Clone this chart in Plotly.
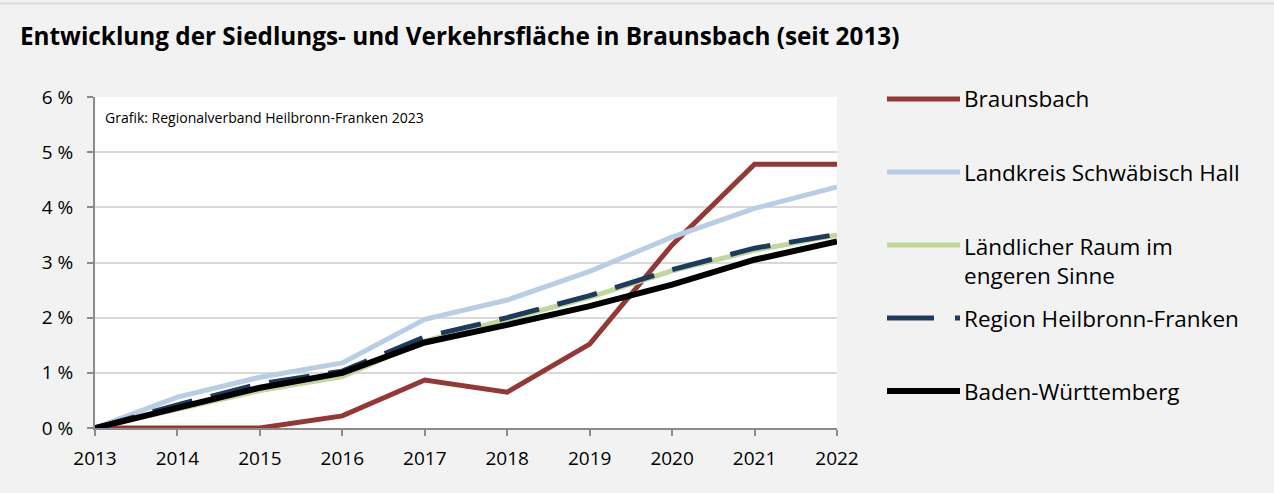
import plotly.graph_objects as go

# Jahre (Basisjahr 2013 = 0 %)
years = [2013, 2014, 2015, 2016, 2017, 2018, 2019, 2020, 2021, 2022]

# Zuwachs der Siedlungs- und Verkehrsfläche gegenüber 2013 in %
braunsbach = [0.0, 0.0, 0.0, 0.22, 0.87, 0.65, 1.52, 3.32, 4.78, 4.78]
landkreis_sha = [0.0, 0.56, 0.92, 1.18, 1.97, 2.32, 2.84, 3.46, 3.98, 4.37]
laendlicher_raum = [0.0, 0.33, 0.68, 0.93, 1.58, 1.97, 2.37, 2.85, 3.22, 3.50]
region_hnf = [0.0, 0.42, 0.80, 1.03, 1.65, 2.00, 2.40, 2.87, 3.26, 3.51]
baden_wuerttemberg = [0.0, 0.37, 0.73, 1.00, 1.55, 1.87, 2.21, 2.60, 3.05, 3.38]

y_ticks = [0, 1, 2, 3, 4, 5, 6]
y_tick_labels = ["0 %", "1 %", "2 %", "3 %", "4 %", "5 %", "6 %"]

FONT = "Open Sans"
W, H = 1274, 493
L, R, T, B = 95, 437, 97, 65

series = [
    ("Braunsbach", braunsbach, "#953735", None, 5),
    ("Landkreis Schwäbisch Hall", landkreis_sha, "#b9cde5", None, 5),
    ("Ländlicher Raum im<br>engeren Sinne", laendlicher_raum, "#c3d69b", None, 5),
    ("Region Heilbronn-Franken", region_hnf, "#1f3a5f", "41px,19px", 5),
    ("Baden-Württemberg", baden_wuerttemberg, "#000000", None, 6),
]

fig = go.Figure()
for name, values, color, dash, width in series:
    fig.add_trace(go.Scatter(
        x=years, y=values, mode="lines", name=name,
        line=dict(color=color, width=width, dash=dash),
        showlegend=False,
    ))

plot_w = W - L - R
plot_h = H - T - B


def px_x(px):
    return (px - L) / plot_w


def px_y(py):
    return (H - B - py) / plot_h


# Legende rechts neben dem Diagramm
legend_rows = [
    (99, 99, "Braunsbach"),
    (172, 172, "Landkreis Schwäbisch Hall"),
    (245, 261, "Ländlicher Raum im<br>engeren Sinne"),
    (318, 318, "Region Heilbronn-Franken"),
    (391, 391, "Baden-Württemberg"),
]
shapes = []
annotations = []
for (line_y, text_y, label), (_, _, color, dash, width) in zip(legend_rows, series):
    shapes.append(dict(
        type="line", xref="paper", yref="paper",
        x0=px_x(887), x1=px_x(960), y0=px_y(line_y), y1=px_y(line_y),
        line=dict(color=color, width=width, dash="47px,21px" if dash else None),
    ))
    annotations.append(dict(
        xref="paper", yref="paper", x=px_x(962), y=px_y(text_y),
        xanchor="left", yanchor="middle", text=label, showarrow=False,
        align="left", font=dict(family=FONT, size=22.5, color="#000000"),
    ))

# Rahmenlinie oben
shapes.append(dict(
    type="line", xref="paper", yref="paper",
    x0=px_x(0), x1=px_x(W), y0=px_y(3.5), y1=px_y(3.5),
    line=dict(color="#d9d9d9", width=2),
))

annotations.append(dict(
    xref="paper", yref="paper", x=px_x(103), y=px_y(117),
    xanchor="left", yanchor="middle",
    text="Grafik: Regionalverband Heilbronn-Franken 2023", showarrow=False,
    font=dict(family=FONT, size=14, color="#000000"),
))
annotations.append(dict(
    xref="paper", yref="paper", x=px_x(18), y=px_y(35),
    xanchor="left", yanchor="middle",
    text="<b>Entwicklung der Siedlungs- und Verkehrsfläche in Braunsbach (seit 2013)</b>",
    showarrow=False,
    font=dict(family=FONT, size=24.3, color="#000000"),
))

fig.update_layout(
    width=W, height=H,
    margin=dict(l=L, r=R, t=T, b=B),
    paper_bgcolor="#f2f2f2",
    plot_bgcolor="#ffffff",
    font=dict(family=FONT, size=19, color="#000000"),
    shapes=shapes,
    annotations=annotations,
    showlegend=False,
)
fig.update_xaxes(
    range=[2013, 2022], tickmode="array", tickvals=years,
    ticktext=[str(y) for y in years],
    showgrid=False, zeroline=False,
    showline=True, linecolor="#8c8c8c", linewidth=2,
    ticks="outside", ticklen=6, tickcolor="#8c8c8c", tickwidth=2,
    tickfont=dict(family=FONT, size=19), ticklabelstandoff=6,
)
fig.update_yaxes(
    range=[0, 6], tickmode="array", tickvals=y_ticks, ticktext=y_tick_labels,
    showgrid=True, gridcolor="#d9d9d9", gridwidth=2, zeroline=False,
    showline=True, linecolor="#8c8c8c", linewidth=2,
    ticks="outside", ticklen=6, tickcolor="#8c8c8c", tickwidth=2,
    tickfont=dict(family=FONT, size=19), ticklabelstandoff=10,
)

fig.write_html("out.html")
